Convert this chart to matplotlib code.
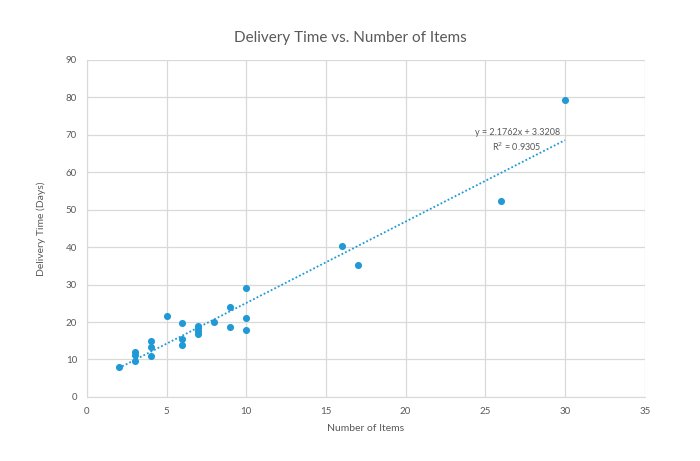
import matplotlib
matplotlib.use("Agg")
import matplotlib.pyplot as plt
import numpy as np

plt.rcParams['font.family'] = ['Lato', 'DejaVu Sans']

# data
items = [2, 3, 3, 3, 4, 4, 4, 5, 6, 6, 6, 7, 7, 7, 7, 8, 9, 9, 10, 10, 10, 16, 17, 26, 30]
days = [8.0, 12.0, 11.3, 9.5, 15.0, 13.4, 10.8, 21.5, 19.8, 15.4, 13.8,
        19.0, 18.3, 17.7, 16.7, 19.9, 24.0, 18.8, 29.0, 21.0, 17.9,
        40.2, 35.1, 52.3, 79.2]
eq_text = "y = 2.1762x + 3.3208\nR$^2$ = 0.9305"

blue = "#1f9ad6"
grey = "#595959"

fig = plt.figure(figsize=(7, 4.61), dpi=100)
ax = fig.add_axes([0.124, 0.139, 0.797, 0.731])

# trendline (linear fit)
slope, inter = np.polyfit(items, days, 1)
xs = np.array([min(items), max(items)])
ax.plot(xs, slope * xs + inter, color=blue, lw=1.3, ls=(0, (1, 1.2)), zorder=2)

ax.scatter(items, days, s=26, color=blue, zorder=3, linewidths=0)

ax.text(27.0, 68.5, eq_text, ha='center', va='center', fontsize=6.5,
        color=grey, linespacing=1.3)

ax.set_xlim(0, 35)
ax.set_ylim(0, 90)
ax.set_xticks(range(0, 36, 5))
ax.set_yticks(range(0, 91, 10))
ax.grid(True, color="#d9d9d9", lw=0.9)
ax.set_axisbelow(True)
for s in ['top', 'right']:
    ax.spines[s].set_visible(False)
for s in ['left', 'bottom']:
    ax.spines[s].set_color("#d9d9d9")
ax.tick_params(length=0, labelsize=7, colors=grey, pad=7)

fig.suptitle("Delivery Time vs. Number of Items", x=0.5, y=0.918, va='center',
             fontsize=11, color=grey)
ax.set_xlabel("Number of Items", fontsize=7.5, color=grey, labelpad=6)
ax.set_ylabel("Delivery Time (Days)", fontsize=7.5, color=grey, labelpad=14)

fig.savefig("out.png", dpi=100)
